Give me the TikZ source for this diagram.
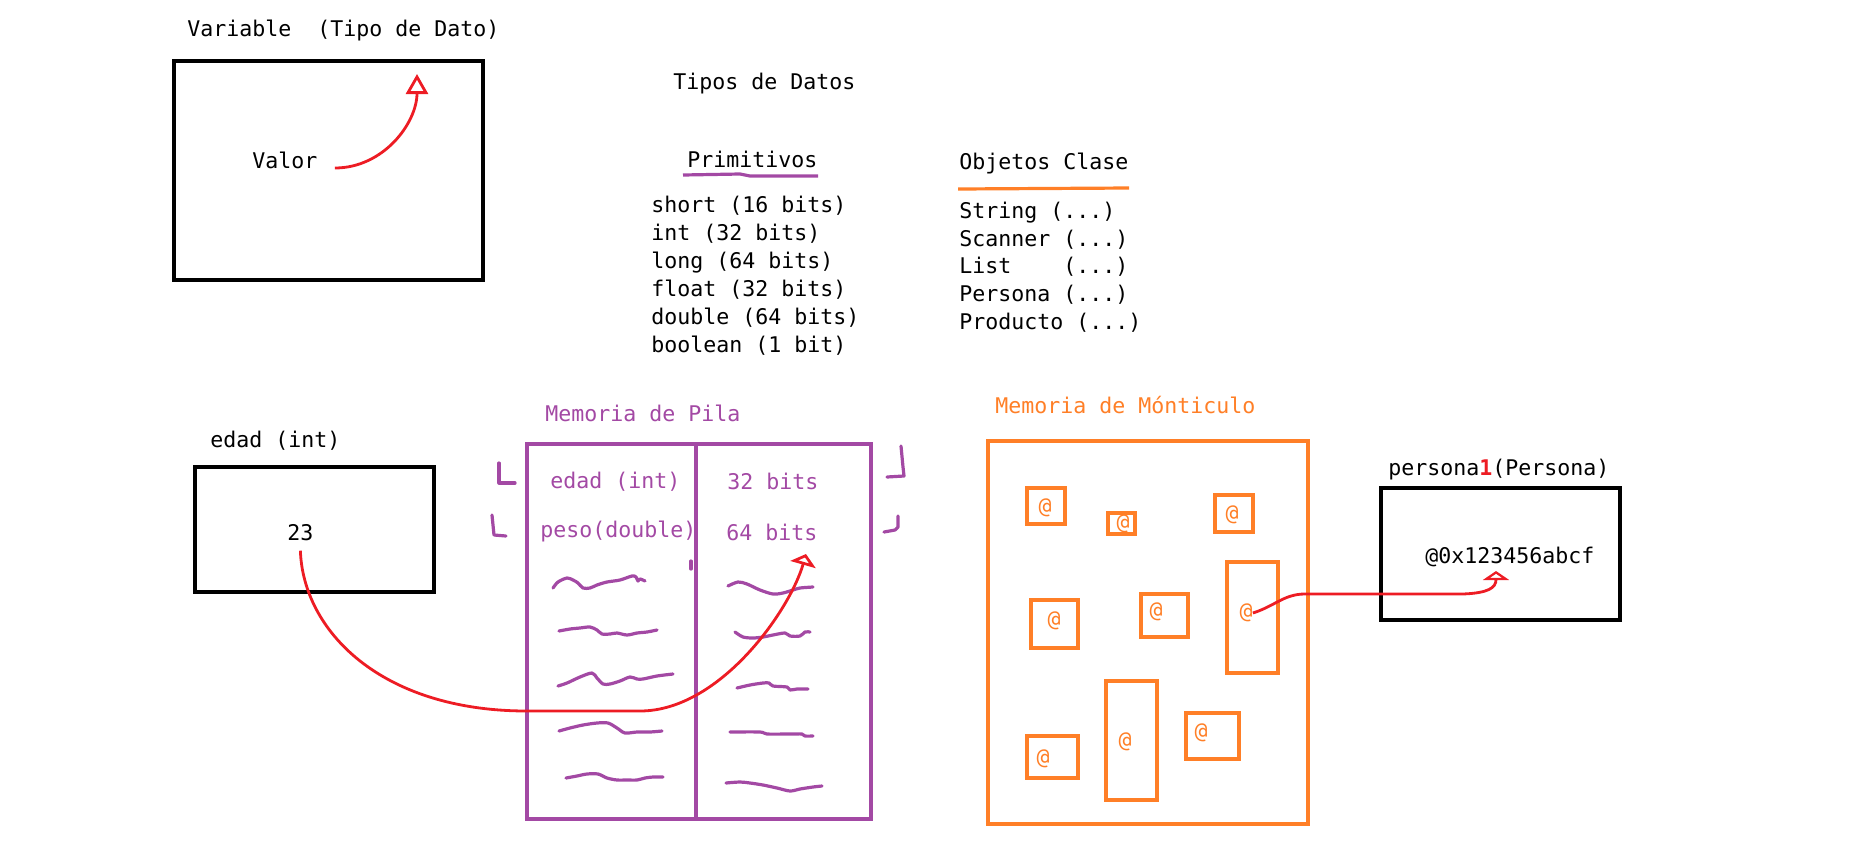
\documentclass[tikz,border=0pt]{standalone}
\usepackage{fontspec}
\setmonofont{DejaVu Sans Mono}
\usetikzlibrary{arrows.meta}
\definecolor{pred}{HTML}{ED1C24}
\definecolor{ppurple}{HTML}{A349A4}
\definecolor{porange}{HTML}{FF7F27}
\newcommand{\tdots}{(...)}
\tikzset{
	txt/.style={anchor=base west, inner sep=0pt, font=\ttfamily\fontsize{10.8}{13}\selectfont},
	atsign/.style={inner sep=0pt, text=porange, font=\ttfamily\fontsize{10.8}{13}\selectfont},
	vbox/.style={draw=black, line width=2.2pt},
	pilabox/.style={draw=ppurple, line width=2pt},
	heapbox/.style={draw=porange, line width=2.3pt},
	scrib/.style={draw=ppurple, line width=1.6pt, line cap=round, line join=round},
	marr/.style={-{Triangle[open, length=10pt, width=11pt]}, line width=1.4pt, draw=pred}
}

\begin{document}
\begin{tikzpicture}[x=0.5pt, y=-0.5pt]
	\useasboundingbox (0,0) rectangle (1875,858);
	% variable (tipo de dato)
	\node[txt] (var) at (187,36) {Variable\ \ (Tipo de Dato)};
	\draw[vbox] (174,61) rectangle (483,280);
	\node[txt] (valor) at (252,168) {Valor};
	\coordinate (tipo) at (417,74);
	\draw[marr] ([xshift=8.5pt]valor.base east) to[out=0, in=-90] (tipo);

	% tipos de datos
	\node[txt] (tipos) at (673,89) {Tipos de Datos};
	\node[txt] (prim) at (687,167) {Primitivos};
	\draw[draw=ppurple, line width=1.6pt] (683,175) -- (740,174) -- (750,176) -- (818,176);
	\foreach \t [count=\i from 0] in {short (16 bits), int (32 bits), long (64 bits),
		float (32 bits), double (64 bits), boolean (1 bit)}
		\node[txt] (p\i) at (651,212.7+28*\i) {\t};
	\node[txt] (obj) at (959,169) {Objetos Clase};
	\draw[draw=porange, line width=1.6pt] (958,189) -- (1129,188);
	\foreach \t [count=\i from 0] in {String \tdots, Scanner \tdots, List\ \ \ \ \tdots,
		Persona \tdots, Producto \tdots}
		\node[txt] (o\i) at (959,218.3+27.75*\i) {\t};

	% variable edad
	\node[txt] (edadlbl) at (210,447) {edad (int)};
	\draw[vbox] (195,467) rectangle (434,592);
	\node[txt] (n23) at (287,540) {23};

	% memoria de pila
	\node[txt, text=ppurple] (pila) at (545,421) {Memoria de Pila};
	\draw[pilabox] (527,444) rectangle (871,819);
	\draw[pilabox] (695.5,444) -- (695.5,819);
	\node[txt, text=ppurple] (sedad) at (550,488) {edad (int)};
	\node[txt, text=ppurple] (b32) at (727,489) {32 bits};
	\node[txt, text=ppurple] (speso) at (540,537) {peso(double)};
	\node[txt, text=ppurple] (b64) at (726,540) {64 bits};
	\draw[scrib] (499,463) -- (499,483) -- (515,483);
	\draw[scrib] (492,515) -- (494,535) -- (506,536);
	\draw[scrib] (901,446) -- (903,467) -- (904,476) -- (887,477);
	\draw[scrib] (898,516) -- (898,527) -- (895,530) -- (884,532);
	\draw[scrib] (691,561) -- (691,569);
	% garabatos
	\draw[scrib] plot[smooth, tension=0.5] coordinates {(553,588) (558,582) (567,578) (573,580)
		(578,583) (583,588) (590,588) (597,585) (607,582) (620,580) (632,576) (636,577) (638,581) (640,579) (645,581)};
	\draw[scrib] plot[smooth, tension=0.5] coordinates {(559,631) (570,629) (580,628) (590,627)
		(597,630) (602,634) (610,634) (617,633) (627,635) (637,633) (647,632) (657,630)};
	\draw[scrib] plot[smooth, tension=0.5] coordinates {(558,686) (567,683) (580,677) (592,673)
		(597,678) (603,684) (610,684) (620,681) (630,677) (637,679) (643,679) (657,676) (673,674)};
	\draw[scrib] plot[smooth, tension=0.5] coordinates {(559,731) (570,728) (583,725) (597,723)
		(608,723) (617,728) (625,733) (637,732) (650,732) (662,731)};
	\draw[scrib] plot[smooth, tension=0.5] coordinates {(566,778) (577,776) (587,774) (598,774)
		(607,778) (617,780) (627,780) (637,780) (645,778) (653,777) (663,777)};
	\draw[scrib] plot[smooth, tension=0.5] coordinates {(728,586) (738,582) (747,584) (760,590)
		(773,594) (783,593) (793,590) (800,588) (813,587)};
	\draw[scrib] plot[smooth, tension=0.5] coordinates {(735,632) (743,637) (753,638) (763,637)
		(773,635) (785,633) (790,636) (800,636) (805,632) (810,632)};
	\draw[scrib] plot[smooth, tension=0.5] coordinates {(737,688) (750,685) (763,683) (769,683)
		(773,686) (787,687) (790,690) (797,689) (808,689)};
	\draw[scrib] plot[smooth, tension=0.5] coordinates {(730,732) (760,732) (767,734) (790,734)
		(802,734) (805,736) (813,736)};
	\draw[scrib] plot[smooth, tension=0.5] coordinates {(726,783) (740,782) (750,783) (763,785)
		(777,788) (790,791) (800,789) (813,787) (822,786)};

	% memoria de monticulo
	\node[txt, text=porange] (monti) at (995,413) {Memoria de Mónticulo};
	\draw[heapbox] (988,441) rectangle (1308,824);
	\foreach \xa/\ya/\xb/\yb/\xt/\yt [count=\i] in {1027/488/1065/524/1045/508,
		1108/513/1135/534/1123/524, 1215/495/1253/532/1232/515,
		1031/600/1078/648/1054/621, 1141/594/1188/637/1156/612,
		1227/562/1278/673/1246/613, 1027/736/1078/778/1043/759,
		1106/681/1157/800/1125/742, 1186/713/1239/759/1201/733} {
		\draw[heapbox, line width=2.2pt] (\xa,\ya) rectangle (\xb,\yb);
		\node[atsign] (at\i) at (\xt,\yt) {@};
	}

	% persona1
	\node[txt] (perlbl) at (1388,475) {persona\textcolor{pred}{\bfseries 1}(Persona)};
	\draw[vbox] (1381,488) rectangle (1620,620);
	\node[txt] (dir) at (1425,563) {@0x123456abcf};

	% flechas
	\coordinate (bits) at (806,554);
	\draw[marr, -{Triangle[open, length=5.5pt, width=13pt]}] ([yshift=-5pt]n23.south)
		.. controls (303,630) and (380,711) .. (527,711) -- (640,711)
		.. controls (720,711) and (790,610) .. (bits);
	\coordinate (dirtip) at (1496,571);
	\draw[marr, -{Triangle[open, length=4.5pt, width=13pt]}] (at6.east)
		.. controls (1275,606) and (1284,594) .. (1305,594) -- (1463,594)
		.. controls (1488,593) and (1496,588) .. (dirtip);
\end{tikzpicture}
\end{document}
